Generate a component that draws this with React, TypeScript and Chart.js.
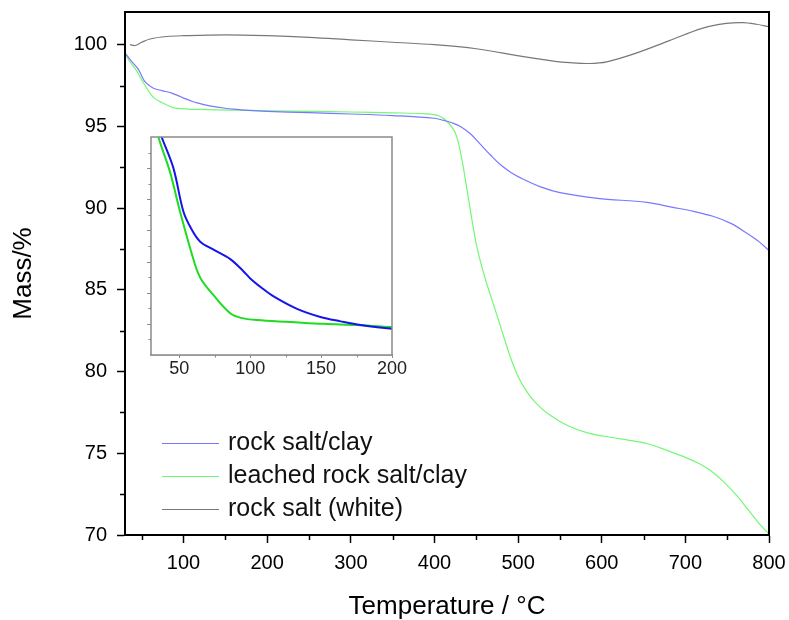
import React, { useEffect, useRef } from "react";
import { Chart, registerables } from "chart.js";
Chart.register(...registerables);

// ---- data (temperature °C, mass %) ----
const clayT = [30, 33, 37.5, 45.8, 52.9, 58.8, 64.7, 74.1, 85.9, 95, 100, 108, 116.5, 133, 149.5, 163.7, 177.8, 200, 250, 300, 350, 400, 411, 421, 431, 443, 455, 467, 479, 491, 503, 527, 550, 595, 654, 685, 710, 733, 755, 774, 788, 800];
const clayMass = [99.5, 99.3, 99.0, 98.5, 97.8, 97.51, 97.32, 97.19, 97.04, 96.85, 96.73, 96.58, 96.44, 96.24, 96.11, 96.04, 95.98, 95.92, 95.84, 95.76, 95.66, 95.5, 95.37, 95.22, 95.0, 94.55, 93.9, 93.25, 92.65, 92.2, 91.85, 91.3, 90.95, 90.6, 90.35, 90.05, 89.8, 89.5, 89.05, 88.45, 87.95, 87.4];

const leachedT = [30, 35.2, 43.4, 50.5, 61.1, 65.8, 74.1, 85.9, 92.9, 104.7, 128.3, 151.8, 175.5, 200, 250, 300, 350, 390, 405, 415, 425, 432, 440, 450, 460, 470, 480, 490, 500, 510, 520, 535, 559, 583, 614, 630, 654, 682, 700, 715, 730, 745, 760, 775, 790, 800];
const leachedMass = [99.5, 99.0, 98.44, 97.8, 96.95, 96.7, 96.46, 96.17, 96.1, 96.06, 96.03, 96.0, 95.98, 95.95, 95.92, 95.88, 95.83, 95.77, 95.65, 95.3, 94.6, 93.2, 90.8, 87.8, 85.8, 84.2, 82.6, 81.0, 79.7, 78.8, 78.15, 77.45, 76.7, 76.25, 75.95, 75.82, 75.6, 75.1, 74.75, 74.4, 73.95, 73.3, 72.5, 71.55, 70.6, 70.05];

const whiteT = [36, 42, 50, 60, 80, 100, 150, 200, 250, 300, 350, 400, 450, 503, 542, 562, 585, 606, 642, 681, 720, 749, 769, 785, 800];
const whiteMass = [100.0, 99.95, 100.15, 100.35, 100.5, 100.55, 100.6, 100.55, 100.45, 100.3, 100.15, 100.0, 99.75, 99.3, 99.0, 98.9, 98.85, 98.95, 99.5, 100.25, 101.0, 101.3, 101.35, 101.25, 101.1];

const seriesLabels = ["rock salt/clay", "leached rock salt/clay", "rock salt (white)"];

const xMajor = [100, 200, 300, 400, 500, 600, 700, 800];
const xMinor = [50, 150, 250, 350, 450, 550, 650, 750];
const yMajor = [70, 75, 80, 85, 90, 95, 100];
const yMinor = [72.5, 77.5, 82.5, 87.5, 92.5, 97.5];

const insetXMajor = [50, 100, 150, 200];
const insetXMinor = [75, 125, 175];
const insetYMajor = [96, 96.5, 97, 97.5, 98, 98.5];
const insetYMinor = [95.75, 96.25, 96.75, 97.25, 97.75, 98.25, 98.75];

const FONT = "'Liberation Sans', Arial, sans-serif";

const mainColors = ["rgb(120,120,255)", "rgb(115,248,115)", "rgb(120,120,120)"];
const insetColors = ["rgb(20,20,235)", "rgb(30,220,30)"];

const pts = (xs: number[], ys: number[]) => xs.map((x, i) => ({ x, y: ys[i] }));

const noPad = (s: any) => {
  s.paddingTop = 0;
  s.paddingBottom = 0;
  s.paddingLeft = 0;
  s.paddingRight = 0;
};

const mainDeco = {
  id: "mainDeco",
  afterDraw(chart: any) {
    const { ctx, chartArea: a, scales } = chart;
    const xs = scales.x, ys = scales.y;
    ctx.save();
    ctx.strokeStyle = "#000";
    ctx.lineWidth = 2;
    ctx.strokeRect(a.left, a.top, a.right - a.left, a.bottom - a.top);
    ctx.lineWidth = 1.5;
    ctx.beginPath();
    xMinor.forEach((v) => {
      const px = Math.round(xs.getPixelForValue(v)) + 0.5;
      ctx.moveTo(px, a.bottom);
      ctx.lineTo(px, a.bottom + 5);
    });
    yMinor.forEach((v) => {
      const py = Math.round(ys.getPixelForValue(v)) + 0.5;
      ctx.moveTo(a.left, py);
      ctx.lineTo(a.left - 5, py);
    });
    ctx.stroke();
    // legend
    const lx = a.left + 37;
    const ly = 443;
    ctx.font = `25px ${FONT}`;
    ctx.textBaseline = "middle";
    ctx.textAlign = "left";
    chart.data.datasets.forEach((ds: any, i: number) => {
      const y = ly + i * 33;
      ctx.strokeStyle = mainColors[i];
      ctx.lineWidth = 1.2;
      ctx.beginPath();
      ctx.moveTo(lx, y + 0.5);
      ctx.lineTo(lx + 57, y + 0.5);
      ctx.stroke();
      ctx.fillStyle = "#111";
      ctx.fillText(ds.label, lx + 66, y);
    });
    ctx.restore();
  },
};

const insetDeco = {
  id: "insetDeco",
  beforeDatasetsDraw(chart: any) {
    const { ctx, chartArea: a } = chart;
    ctx.save();
    ctx.fillStyle = "#fff";
    ctx.fillRect(a.left, a.top, a.right - a.left, a.bottom - a.top);
    ctx.restore();
  },
  afterDraw(chart: any) {
    const { ctx, chartArea: a, scales } = chart;
    const xs = scales.x, ys = scales.y;
    ctx.save();
    ctx.strokeStyle = "#8a8a8a";
    ctx.lineWidth = 1.5;
    ctx.strokeRect(a.left, a.top, a.right - a.left, a.bottom - a.top);
    ctx.lineWidth = 1;
    ctx.beginPath();
    insetXMinor.forEach((v) => {
      const px = Math.round(xs.getPixelForValue(v)) + 0.5;
      ctx.moveTo(px, a.bottom);
      ctx.lineTo(px, a.bottom + 2.5);
    });
    insetYMajor.forEach((v) => {
      const py = Math.round(ys.getPixelForValue(v)) + 0.5;
      ctx.moveTo(a.left, py);
      ctx.lineTo(a.left - 4, py);
    });
    insetYMinor.forEach((v) => {
      const py = Math.round(ys.getPixelForValue(v)) + 0.5;
      ctx.moveTo(a.left, py);
      ctx.lineTo(a.left - 2.5, py);
    });
    ctx.stroke();
    ctx.restore();
  },
};

export default function App() {
  const mainRef = useRef<HTMLCanvasElement | null>(null);
  const insetRef = useRef<HTMLCanvasElement | null>(null);

  useEffect(() => {
    const lineStyle = { pointRadius: 0, tension: 0.35, fill: false };
    const main = new Chart(mainRef.current!, {
      type: "line",
      data: {
        datasets: [
          { label: seriesLabels[0], data: pts(clayT, clayMass), borderColor: mainColors[0], borderWidth: 1.2, ...lineStyle },
          { label: seriesLabels[1], data: pts(leachedT, leachedMass), borderColor: mainColors[1], borderWidth: 1.2, ...lineStyle },
          { label: seriesLabels[2], data: pts(whiteT, whiteMass), borderColor: mainColors[2], borderWidth: 1.2, ...lineStyle },
        ],
      },
      options: {
        responsive: false,
        animation: false,
        devicePixelRatio: 1,
        layout: { padding: { top: 12, right: 20, left: 0, bottom: 0 } },
        plugins: { legend: { display: false }, tooltip: { enabled: false } },
        scales: {
          x: {
            type: "linear",
            min: 30,
            max: 800,
            afterBuildTicks: (s: any) => { s.ticks = xMajor.map((v) => ({ value: v })); },
            afterFit: (s: any) => { s.height = 85; noPad(s); },
            grid: { drawOnChartArea: false, drawTicks: true, tickLength: 8, tickColor: "#000", tickWidth: 1.5 },
            border: { color: "#000", width: 2 },
            ticks: { font: { family: FONT, size: 20 }, color: "#000", padding: 8, maxRotation: 0 },
            title: { display: true, text: "Temperature / °C", font: { family: FONT, size: 26, lineHeight: 1 }, color: "#000", padding: { top: 0, bottom: 0 } },
          },
          y: {
            type: "linear",
            min: 70,
            max: 102,
            afterBuildTicks: (s: any) => { s.ticks = yMajor.map((v) => ({ value: v })); },
            afterFit: (s: any) => { s.width = 125; noPad(s); },
            grid: { drawOnChartArea: false, drawTicks: true, tickLength: 8, tickColor: "#000", tickWidth: 1.5 },
            border: { color: "#000", width: 2 },
            ticks: { font: { family: FONT, size: 20 }, color: "#000", padding: 10 },
            title: { display: true, text: "Mass/%", font: { family: FONT, size: 26, lineHeight: 1 }, color: "#000", padding: { top: 11, bottom: 0 } },
          },
        },
      },
      plugins: [mainDeco],
    });

    const inset = new Chart(insetRef.current!, {
      type: "line",
      data: {
        datasets: [
          { label: seriesLabels[0], data: pts(clayT, clayMass), borderColor: insetColors[0], borderWidth: 2, ...lineStyle },
          { label: seriesLabels[1], data: pts(leachedT, leachedMass), borderColor: insetColors[1], borderWidth: 2, ...lineStyle },
        ],
      },
      options: {
        responsive: false,
        animation: false,
        devicePixelRatio: 1,
        layout: { padding: { top: 10, right: 20, left: 30, bottom: 0 } },
        plugins: { legend: { display: false }, tooltip: { enabled: false } },
        scales: {
          x: {
            type: "linear",
            min: 30,
            max: 200,
            afterBuildTicks: (s: any) => { s.ticks = insetXMajor.map((v) => ({ value: v })); },
            afterFit: (s: any) => { s.height = 30; noPad(s); },
            grid: { drawOnChartArea: false, drawTicks: true, tickLength: 3, tickColor: "#8a8a8a", tickWidth: 1 },
            border: { color: "#8a8a8a", width: 1.5 },
            ticks: { font: { family: FONT, size: 18, lineHeight: 1 }, color: "#222", padding: 2, maxRotation: 0 },
          },
          y: {
            type: "linear",
            display: false,
            min: 95.5,
            max: 99.0,
          },
        },
      },
      plugins: [insetDeco],
    });

    return () => {
      main.destroy();
      inset.destroy();
    };
  }, []);

  return (
    <div style={{ position: "absolute", left: 0, top: 0, width: 789, height: 620, background: "#fff" }}>
      <canvas ref={mainRef} width={789} height={620} style={{ position: "absolute", left: 0, top: 0, width: 789, height: 620 }} />
      <canvas ref={insetRef} width={291} height={258} style={{ position: "absolute", left: 121, top: 127, width: 291, height: 258 }} />
    </div>
  );
}
